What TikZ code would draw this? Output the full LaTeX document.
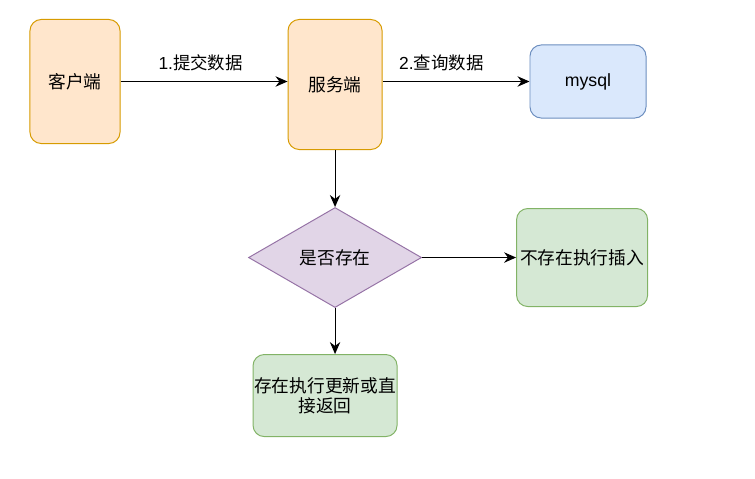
\documentclass[tikz,border=0pt]{standalone}
\usepackage{fontspec}
\setmainfont{Liberation Sans}
\newfontfamily\cjk{Noto Sans CJK SC}
\usepackage{tikz}
\usetikzlibrary{arrows.meta,positioning,shapes.geometric}
\definecolor{orfill}{HTML}{FFE6CC}
\definecolor{ordraw}{HTML}{D79B00}
\definecolor{blfill}{HTML}{DAE8FC}
\definecolor{bldraw}{HTML}{6C8EBF}
\definecolor{pufill}{HTML}{E1D5E7}
\definecolor{pudraw}{HTML}{9673A6}
\definecolor{grfill}{HTML}{D5E8D4}
\definecolor{grdraw}{HTML}{82B366}
\begin{document}
\begin{tikzpicture}[x=0.025cm, y=-0.025cm,
  box/.style={rounded corners=0.28cm, line width=.7pt, align=center, inner sep=0pt, font=\fontsize{12.6}{14.5}\selectfont},
  srvbox/.style={box, draw=ordraw, fill=orfill},
  dbbox/.style={box, draw=bldraw, fill=blfill},
  okbox/.style={box, draw=grdraw, fill=grfill},
  decbox/.style={diamond, aspect=1.73, draw=pudraw, fill=pufill, line width=.7pt, inner sep=0pt, font=\fontsize{12.6}{14.5}\selectfont},
  edge/.style={-{Stealth[length=3mm,width=2.6mm]}, draw=black, line width=.75pt},
  lbl/.style={above=4pt, font=\fontsize{12.4}{14.5}\selectfont}
]
\useasboundingbox (0,0) rectangle (755,479);
\node[srvbox, minimum width=2.25cm, minimum height=3.1cm] (cli) at (75,81.5) {\cjk 客户端};
\node[srvbox, minimum width=2.35cm, minimum height=3.25cm, right=4.175cm of cli.north east, anchor=north west] (srv) {\cjk 服务端};
\node[dbbox, minimum width=2.9cm, minimum height=1.825cm] (db) at (588,81.5) {mysql};
\node[decbox, minimum width=4.325cm, minimum height=2.5cm, below=1.425cm of srv] (dec) {\cjk 是否存在};
\node[okbox, minimum width=3.275cm, minimum height=2.45cm, right=2.35cm of dec] (ins) {\cjk 不存在执行插入};
\node[okbox, minimum width=3.6cm, minimum height=2.05cm, below=1.15cm of dec.south, anchor=north, xshift=-0.25cm] (upd) {\cjk 存在执行更新或直\\\cjk 接返回};
% connectors
\draw[edge] (cli) -- (cli -| srv.west) node[lbl, pos=.48] {1.{\cjk 提交数据}};
\draw[edge] (srv.east |- db.west) -- (db.west) node[lbl, pos=.4] {2.{\cjk 查询数据}};
\draw[edge] (srv) -- (dec);
\draw[edge] (dec.east) -- (dec.east -| ins.west);
\draw[edge] (dec.south) -- (dec.south |- upd.north);
\end{tikzpicture}
\end{document}
